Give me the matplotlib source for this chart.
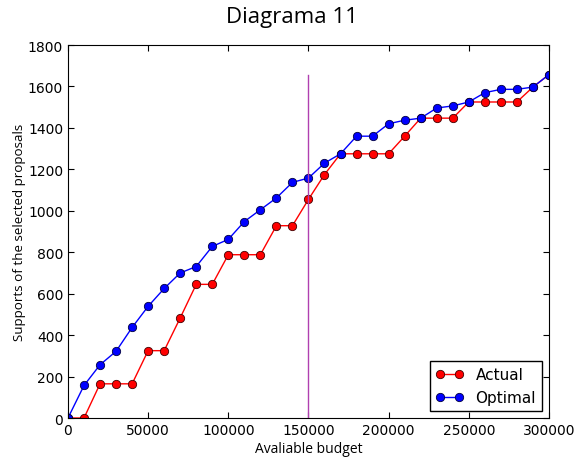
import matplotlib
matplotlib.use("Agg")
import matplotlib.pyplot as plt

budget = [0, 10000, 20000, 30000, 40000, 50000, 60000, 70000, 80000, 90000,
          100000, 110000, 120000, 130000, 140000, 150000, 160000, 170000, 180000, 190000,
          200000, 210000, 220000, 230000, 240000, 250000, 260000, 270000, 280000, 290000,
          300000]
actual = [0, 0, 165, 165, 165, 325, 325, 483, 645, 645,
          788, 788, 788, 928, 928, 1055, 1175, 1275, 1275, 1275,
          1275, 1360, 1447, 1447, 1447, 1525, 1525, 1525, 1525, 1597,
          1657]
optimal = [0, 157, 257, 322, 437, 539, 625, 700, 731, 828,
           862, 948, 1005, 1062, 1137, 1158, 1230, 1275, 1360, 1360,
           1420, 1437, 1447, 1496, 1506, 1525, 1570, 1586, 1586, 1597,
           1657]
current_budget = 150000

fig = plt.figure(figsize=(5.83, 4.6), dpi=100)
ax = fig.add_axes([0.1166, 0.0891, 0.825, 0.8109])

ax.plot(budget, actual, "o-", color="red", mec="#400000", mew=0.6, ms=6, lw=1, label="Actual")
ax.plot(budget, optimal, "o-", color="blue", mec="#000040", mew=0.6, ms=6, lw=1, label="Optimal")
ax.plot([current_budget, current_budget], [0, max(optimal)], color="#b040b0", lw=1)

ax.set_xlim(0, 300000)
ax.set_ylim(0, 1800)
ax.set_xticks(range(0, 300001, 50000))
ax.set_yticks(range(0, 1801, 200))
ax.tick_params(direction="in", top=True, right=True, labelsize=10, length=4)

ax.set_xlabel("Avaliable budget", fontfamily="Open Sans", fontsize=10, labelpad=3)
ax.set_ylabel("Supports of the selected proposals", fontfamily="Open Sans", fontsize=9.6, labelpad=1)
fig.suptitle("Diagrama 11", fontfamily="Open Sans", fontsize=16, y=0.985)

ax.legend(loc="lower right", numpoints=2, fontsize=11, fancybox=False,
          edgecolor="black", framealpha=1, borderaxespad=0.45, handlelength=1.8)

fig.savefig("out.png", dpi=100)
